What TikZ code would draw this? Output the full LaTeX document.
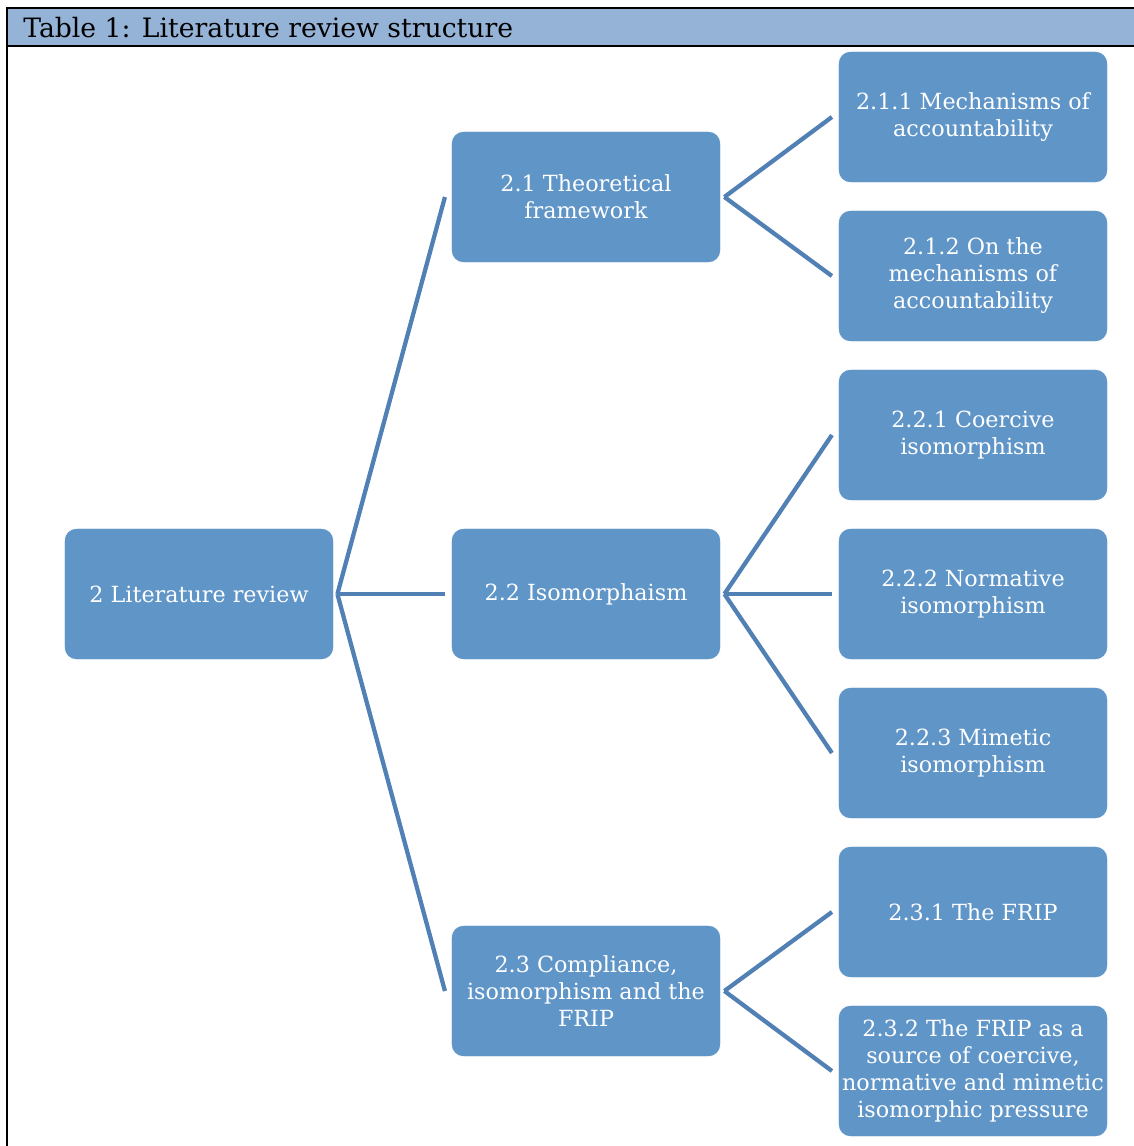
\documentclass[tikz,border=0pt]{standalone}
\usepackage{fontspec}
\setmainfont{DejaVu Serif}
\definecolor{hdr}{RGB}{149,179,215}
\definecolor{boxf}{RGB}{96,149,200}
\definecolor{linec}{RGB}{80,128,180}
\begin{document}
\begin{tikzpicture}[x=0.75pt,y=-0.75pt,
  box/.style={draw=white, line width=0.6pt, fill=boxf, rounded corners=9pt,
    minimum width=202pt, minimum height=98.5pt, text=white, align=center,
    font=\fontsize{16.7}{20.25}\selectfont, inner sep=1pt},
  conn/.style={draw=linec, line width=3.2pt}]
\useasboundingbox (0,0) rectangle (1134,1146);
\fill[white] (0,0) rectangle (1134,1146);
% frame and header
\fill[hdr] (7,8) rectangle (1140,46);
\draw[black, line width=1.5pt] (1140,8) -- (7,8) -- (7,1150);
\draw[black, line width=2.2pt] (7,46) -- (1140,46);
\node[anchor=west, font=\fontsize{20}{22}\selectfont, inner sep=0pt] (title) at (23,28) {Table 1: Literature review structure};
% nodes
\node[box] (root) at (199,594) {2 Literature review};
\node[box] (a) at (586,197) {2.1 Theoretical\\framework};
\node[box] (b) at (586,594) {2.2 Isomorphaism};
\node[box] (c) at (586,991) {2.3 Compliance,\\isomorphism and the\\FRIP};
\node[box] (a1) at (973,117) {2.1.1 Mechanisms of\\accountability};
\node[box] (a2) at (973,276) {2.1.2 On the\\mechanisms of\\accountability};
\node[box] (b1) at (973,435) {2.2.1 Coercive\\isomorphism};
\node[box] (b2) at (973,594) {2.2.2 Normative\\isomorphism};
\node[box] (b3) at (973,753) {2.2.3 Mimetic\\isomorphism};
\node[box] (c1) at (973,912) {2.3.1 The FRIP};
\node[box] (c2) at (973,1071) {2.3.2 The FRIP as a\\source of coercive,\\normative and mimetic\\isomorphic pressure};
% connectors
\foreach \p/\c in {root/a,root/b,root/c,a/a1,a/a2,b/b1,b/b2,b/b3,c/c1,c/c2}{
  \draw[conn] ([xshift=2.5pt]\p.east) -- ([xshift=-4.5pt]\c.west);
}
\end{tikzpicture}
\end{document}
